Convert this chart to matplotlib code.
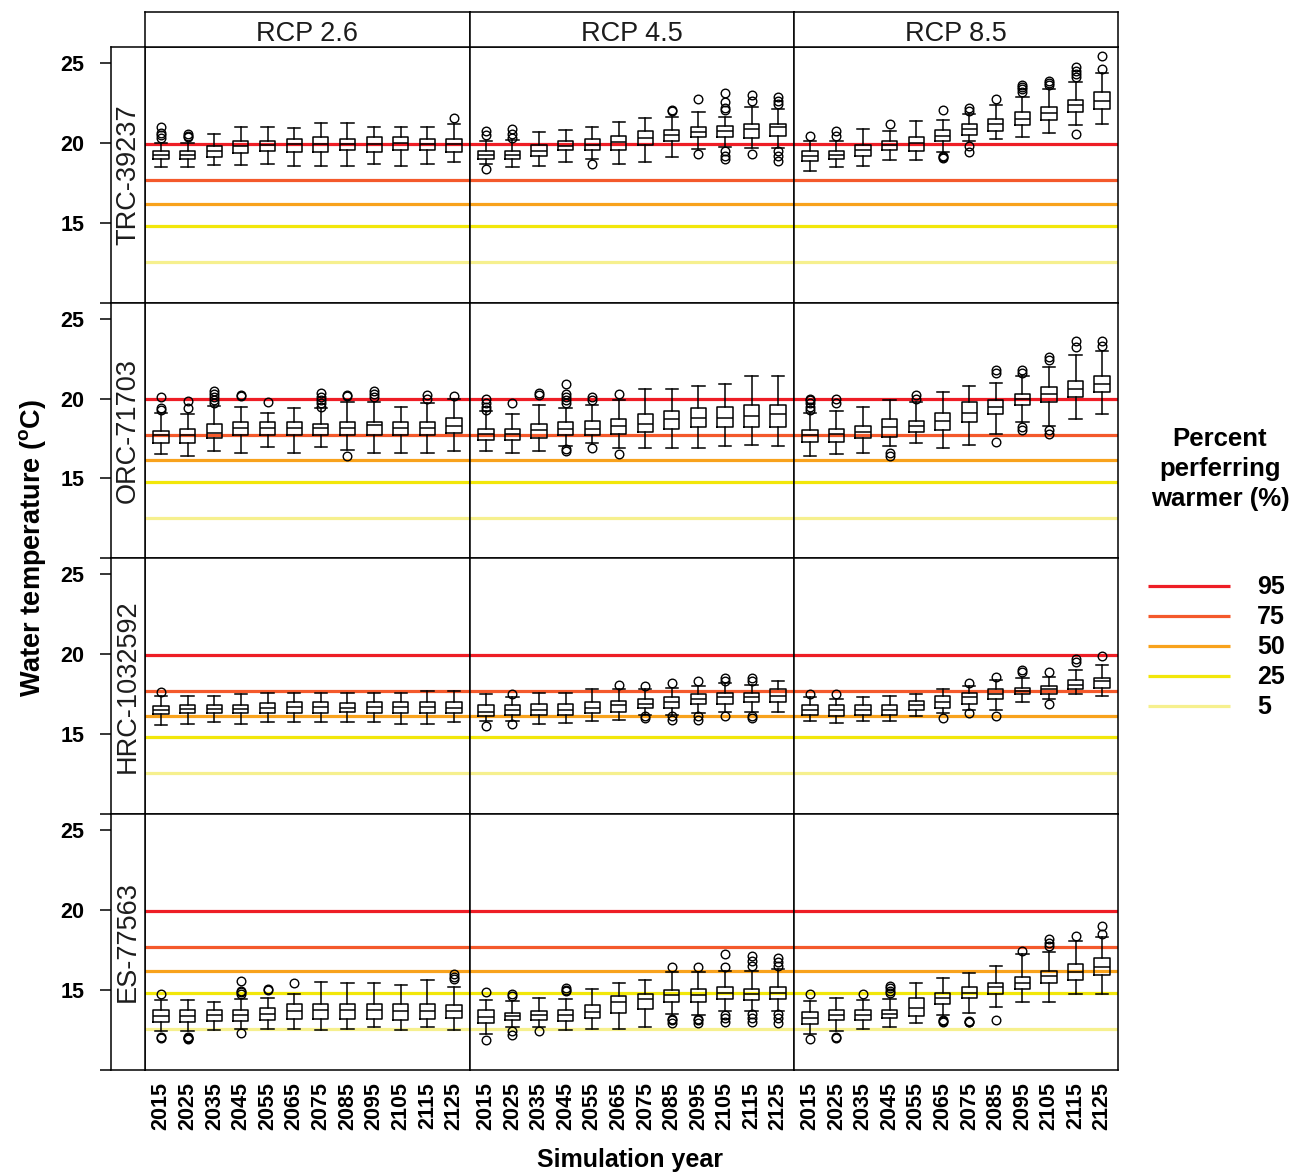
import matplotlib
matplotlib.use("Agg")
import matplotlib.pyplot as plt

plt.rcParams["font.family"] = ["Liberation Sans", "DejaVu Sans"]
plt.rcParams["mathtext.fontset"] = "custom"
plt.rcParams["mathtext.rm"] = "Liberation Sans"
plt.rcParams["mathtext.bf"] = "Liberation Sans:bold"

# ---------------------------------------------------------------- data
YEARS = [2015, 2025, 2035, 2045, 2055, 2065, 2075, 2085, 2095, 2105, 2115, 2125]
SITES = ["TRC-39237", "ORC-71703", "HRC-1032592", "ES-77563"]
SCENARIOS = ["RCP 2.6", "RCP 4.5", "RCP 8.5"]

# preference thresholds (water temperature, deg C) and percent preferring warmer
PCT_LABELS = ["95", "75", "50", "25", "5"]
THRESHOLDS = [19.95, 17.70, 16.15, 14.80, 12.55]
THRESH_COLORS = ["#EE1D25", "#F4592B", "#F8A21C", "#F2E70A", "#F6F08E"]

# --- TRC-39237
TRC_26_MED = [19.25, 19.25, 19.47, 19.79, 19.85, 19.90, 19.90, 19.90, 19.90, 19.98, 19.90, 19.90]
TRC_26_Q1 = [19.00, 19.00, 19.14, 19.35, 19.47, 19.45, 19.45, 19.55, 19.45, 19.55, 19.55, 19.45]
TRC_26_Q3 = [19.47, 19.47, 19.81, 20.13, 20.13, 20.25, 20.35, 20.25, 20.35, 20.35, 20.25, 20.25]
TRC_26_LO = [18.47, 18.47, 18.64, 18.62, 18.68, 18.58, 18.58, 18.58, 18.68, 18.58, 18.68, 18.78]
TRC_26_HI = [20.00, 20.00, 20.56, 21.02, 21.02, 20.92, 21.23, 21.23, 21.02, 21.02, 21.02, 21.15]
TRC_26_OUT = [[20.3, 20.5, 20.6, 21.0], [20.35, 20.45, 20.55], [], [], [], [], [], [], [], [], [], [21.57]]

TRC_45_MED = [19.25, 19.25, 19.52, 19.83, 19.89, 20.08, 20.31, 20.50, 20.71, 20.77, 20.88, 20.98]
TRC_45_Q1 = [19.00, 19.00, 19.20, 19.56, 19.56, 19.56, 19.89, 20.14, 20.35, 20.37, 20.31, 20.46]
TRC_45_Q3 = [19.47, 19.47, 19.89, 20.14, 20.25, 20.41, 20.73, 20.82, 21.02, 21.04, 21.19, 21.19]
TRC_45_LO = [18.68, 18.47, 18.57, 18.78, 19.00, 18.68, 18.78, 19.14, 19.62, 19.77, 19.69, 19.69]
TRC_45_HI = [20.14, 20.16, 20.71, 20.82, 21.02, 21.29, 21.57, 21.65, 21.92, 21.65, 22.24, 22.13]
TRC_45_OUT = [[18.37, 20.5, 20.77], [20.3, 20.55, 20.86], [], [], [18.68], [], [],
              [22.0, 22.07], [19.31, 22.76],
              [19.0, 19.2, 19.52, 22.03, 22.2, 22.55, 23.14],
              [19.31, 22.59, 22.97], [18.89, 19.2, 19.52, 22.45, 22.65, 22.86]]

TRC_85_MED = [19.16, 19.25, 19.55, 19.86, 19.98, 20.46, 20.88, 21.15, 21.50, 21.86, 22.34, 22.65]
TRC_85_Q1 = [18.85, 19.00, 19.20, 19.56, 19.52, 20.14, 20.52, 20.77, 21.09, 21.40, 21.92, 22.13]
TRC_85_Q3 = [19.52, 19.52, 19.89, 20.14, 20.35, 20.82, 21.15, 21.50, 21.92, 22.24, 22.70, 23.18]
TRC_85_LO = [18.26, 18.47, 18.57, 18.93, 18.93, 19.41, 20.14, 20.25, 20.35, 20.60, 21.09, 21.15]
TRC_85_HI = [20.14, 20.13, 20.88, 20.77, 21.36, 21.44, 21.78, 22.40, 22.90, 23.39, 23.80, 24.37]
TRC_85_OUT = [[20.41], [20.45, 20.72], [], [21.15], [], [19.06, 19.12, 19.2, 22.07],
              [19.41, 19.8, 22.0, 22.2], [22.76], [23.2, 23.35, 23.5, 23.65],
              [23.6, 23.75, 23.9], [20.56, 24.1, 24.3, 24.5, 24.75], [24.64, 25.42]]

# --- ORC-71703
ORC_26_MED = [17.72, 17.72, 17.83, 18.14, 18.14, 18.14, 18.14, 18.14, 18.35, 18.14, 18.14, 18.29]
ORC_26_Q1 = [17.24, 17.24, 17.51, 17.72, 17.72, 17.72, 17.72, 17.72, 17.72, 17.72, 17.72, 17.83]
ORC_26_Q3 = [17.99, 18.08, 18.41, 18.52, 18.52, 18.52, 18.41, 18.52, 18.52, 18.52, 18.52, 18.77]
ORC_26_LO = [16.53, 16.40, 16.74, 16.60, 16.99, 16.60, 16.99, 16.75, 16.60, 16.60, 16.60, 16.74]
ORC_26_HI = [19.08, 19.00, 19.54, 19.46, 19.08, 19.40, 19.40, 19.81, 19.78, 19.50, 19.71, 19.96]
ORC_26_OUT = [[19.3, 19.4, 20.09], [19.4, 19.86], [19.7, 19.9, 20.1, 20.3, 20.44], [20.13, 20.2],
              [19.81], [], [19.5, 19.7, 19.9, 20.1, 20.35], [16.4, 20.13, 20.25],
              [20.1, 20.3, 20.5], [], [19.96, 20.23], [20.17]]

ORC_45_MED = [17.80, 17.80, 18.00, 18.10, 18.10, 18.30, 18.40, 18.70, 18.80, 18.80, 18.90, 19.00]
ORC_45_Q1 = [17.40, 17.40, 17.50, 17.70, 17.70, 17.80, 17.90, 18.10, 18.20, 18.20, 18.20, 18.20]
ORC_45_Q3 = [18.10, 18.10, 18.40, 18.50, 18.60, 18.70, 19.00, 19.20, 19.40, 19.50, 19.60, 19.60]
ORC_45_LO = [16.70, 16.60, 16.70, 17.00, 17.20, 16.90, 16.90, 16.90, 16.90, 17.00, 17.10, 17.00]
ORC_45_HI = [19.20, 19.00, 19.60, 19.40, 19.60, 19.90, 20.60, 20.60, 20.80, 20.90, 21.40, 21.40]
ORC_45_OUT = [[19.3, 19.5, 19.7, 20.0], [19.7], [20.2, 20.35],
              [16.7, 16.85, 19.7, 19.9, 20.1, 20.3, 20.9], [16.9, 19.9, 20.1], [16.5, 20.3],
              [], [], [], [], [], []]

ORC_85_MED = [17.70, 17.80, 17.90, 18.20, 18.30, 18.60, 19.10, 19.50, 20.00, 20.30, 20.60, 20.90]
ORC_85_Q1 = [17.30, 17.30, 17.50, 17.60, 17.90, 18.00, 18.50, 19.00, 19.60, 19.80, 20.10, 20.40]
ORC_85_Q3 = [18.00, 18.10, 18.30, 18.70, 18.60, 19.10, 19.80, 19.90, 20.30, 20.70, 21.10, 21.40]
ORC_85_LO = [16.40, 16.50, 16.60, 17.00, 17.20, 16.90, 17.10, 17.80, 18.50, 18.30, 18.70, 19.00]
ORC_85_HI = [19.10, 19.20, 19.50, 19.90, 19.80, 20.40, 20.80, 21.00, 21.40, 22.00, 22.70, 23.00]
ORC_85_OUT = [[19.3, 19.5, 19.7, 19.9, 20.0], [19.7, 20.0], [], [16.4, 16.6], [20.0, 20.2], [],
              [], [17.3, 21.6, 21.8], [18.0, 18.2, 21.6, 21.8], [17.8, 18.0, 22.4, 22.6],
              [23.2, 23.6], [23.3, 23.6]]

# --- HRC-1032592
HRC_26_MED = [16.48, 16.54, 16.54, 16.54, 16.65, 16.67, 16.67, 16.65, 16.67, 16.67, 16.67, 16.65]
HRC_26_Q1 = [16.23, 16.29, 16.29, 16.29, 16.29, 16.33, 16.33, 16.35, 16.33, 16.33, 16.33, 16.33]
HRC_26_Q3 = [16.75, 16.81, 16.81, 16.81, 16.96, 17.00, 17.00, 16.92, 17.00, 17.00, 17.00, 17.00]
HRC_26_LO = [15.56, 15.66, 15.74, 15.66, 15.75, 15.75, 15.75, 15.75, 15.75, 15.66, 15.66, 15.75]
HRC_26_HI = [17.38, 17.38, 17.38, 17.48, 17.59, 17.59, 17.59, 17.59, 17.59, 17.59, 17.69, 17.69]
HRC_26_OUT = [[17.63], [], [], [], [], [], [], [], [], [], [], []]

HRC_45_MED = [16.40, 16.50, 16.50, 16.50, 16.60, 16.80, 16.90, 17.00, 17.20, 17.30, 17.30, 17.40]
HRC_45_Q1 = [16.10, 16.20, 16.20, 16.20, 16.30, 16.40, 16.60, 16.60, 16.90, 16.90, 17.00, 17.00]
HRC_45_Q3 = [16.80, 16.80, 16.90, 16.90, 17.00, 17.10, 17.20, 17.30, 17.50, 17.60, 17.60, 17.80]
HRC_45_LO = [15.80, 15.80, 15.60, 15.70, 15.80, 15.90, 16.20, 16.20, 16.30, 16.40, 16.40, 16.40]
HRC_45_HI = [17.50, 17.30, 17.60, 17.60, 17.80, 17.80, 17.80, 17.90, 18.00, 18.20, 18.10, 18.30]
HRC_45_OUT = [[15.5], [15.6, 17.5], [], [], [], [18.1], [16.0, 16.1, 18.0], [15.9, 16.1, 18.2],
              [15.9, 16.1, 18.3], [16.1, 18.3, 18.5], [16.0, 16.1, 18.3, 18.5], []]

HRC_85_MED = [16.50, 16.50, 16.50, 16.50, 16.80, 17.00, 17.30, 17.50, 17.70, 17.80, 18.10, 18.30]
HRC_85_Q1 = [16.20, 16.10, 16.20, 16.20, 16.50, 16.60, 16.90, 17.20, 17.50, 17.50, 17.80, 17.90]
HRC_85_Q3 = [16.80, 16.80, 16.80, 16.80, 17.10, 17.40, 17.60, 17.80, 17.90, 18.00, 18.40, 18.50]
HRC_85_LO = [15.80, 15.70, 15.80, 15.80, 16.10, 16.30, 16.50, 16.50, 17.00, 17.20, 17.50, 17.40]
HRC_85_HI = [17.30, 17.20, 17.30, 17.40, 17.50, 17.80, 18.00, 18.40, 18.50, 18.60, 19.00, 19.30]
HRC_85_OUT = [[17.5], [17.5], [], [], [], [16.0], [16.3, 18.2], [16.1, 18.6], [18.9, 19.0],
              [16.9, 18.9], [19.5, 19.7], [19.9]]

# --- ES-77563
ES_26_MED = [13.36, 13.36, 13.40, 13.40, 13.50, 13.67, 13.70, 13.70, 13.70, 13.67, 13.67, 13.67]
ES_26_Q1 = [13.00, 13.00, 13.07, 13.07, 13.09, 13.15, 13.15, 13.15, 13.15, 13.09, 13.15, 13.20]
ES_26_Q3 = [13.72, 13.72, 13.72, 13.72, 13.84, 14.09, 14.13, 14.13, 14.13, 14.13, 14.13, 14.05]
ES_26_LO = [12.42, 12.42, 12.46, 12.53, 12.53, 12.53, 12.46, 12.53, 12.67, 12.46, 12.67, 12.46]
ES_26_HI = [14.34, 14.34, 14.24, 14.40, 14.47, 14.72, 15.49, 15.39, 15.39, 15.28, 15.60, 15.18]
ES_26_OUT = [[12.0, 12.04, 14.76], [11.9, 11.95, 12.0, 12.05], [],
             [12.31, 14.76, 14.85, 14.95, 15.56], [14.97, 15.05], [15.45], [], [], [], [], [],
             [15.66, 15.8, 16.0]]

ES_45_MED = [13.30, 13.36, 13.40, 13.40, 13.63, 14.20, 14.41, 14.68, 14.68, 14.82, 14.72, 14.82]
ES_45_Q1 = [12.94, 13.09, 13.09, 13.07, 13.21, 13.57, 13.78, 14.26, 14.26, 14.41, 14.35, 14.41]
ES_45_Q3 = [13.72, 13.57, 13.68, 13.72, 14.04, 14.61, 14.72, 14.97, 15.02, 15.18, 15.02, 15.18]
ES_45_LO = [12.25, 12.67, 12.67, 12.46, 12.55, 12.55, 12.67, 13.46, 13.42, 13.67, 13.67, 13.67]
ES_45_HI = [14.34, 14.28, 14.47, 14.40, 15.02, 15.39, 15.60, 16.08, 16.08, 16.18, 16.18, 16.29]
ES_45_OUT = [[11.83, 14.88], [12.19, 12.43, 14.61, 14.72], [12.39], [14.92, 15.0, 15.13], [], [], [],
             [12.94, 13.09, 13.15, 16.39], [12.94, 13.09, 13.15, 16.39],
             [13.0, 13.2, 13.4, 16.39, 17.23], [12.95, 13.2, 13.45, 16.5, 16.8, 17.1],
             [12.94, 13.2, 13.5, 16.5, 16.75, 17.0]]

ES_85_MED = [13.25, 13.42, 13.40, 13.45, 13.88, 14.50, 14.82, 15.18, 15.45, 15.87, 16.08, 16.43]
ES_85_Q1 = [12.88, 13.09, 13.09, 13.26, 13.36, 14.13, 14.47, 14.76, 15.03, 15.39, 15.60, 15.93]
ES_85_Q3 = [13.61, 13.74, 13.72, 13.72, 14.47, 14.82, 15.18, 15.45, 15.81, 16.14, 16.60, 16.98]
ES_85_LO = [12.21, 12.43, 12.55, 12.67, 12.92, 13.42, 13.57, 13.92, 14.26, 14.26, 14.72, 14.72]
ES_85_HI = [14.32, 14.47, 14.34, 14.40, 15.39, 15.73, 16.03, 16.50, 17.23, 17.34, 18.07, 18.32]
ES_85_OUT = [[11.9, 14.72], [12.0, 12.05], [14.72], [14.8, 14.95, 15.1, 15.25], [],
             [12.98, 13.04, 13.1], [12.95, 13.0, 13.05], [13.12], [17.45],
             [17.76, 17.95, 18.17], [18.38], [18.49, 19.0]]

PANELS = {
    (0, 0): (TRC_26_LO, TRC_26_Q1, TRC_26_MED, TRC_26_Q3, TRC_26_HI, TRC_26_OUT),
    (0, 1): (TRC_45_LO, TRC_45_Q1, TRC_45_MED, TRC_45_Q3, TRC_45_HI, TRC_45_OUT),
    (0, 2): (TRC_85_LO, TRC_85_Q1, TRC_85_MED, TRC_85_Q3, TRC_85_HI, TRC_85_OUT),
    (1, 0): (ORC_26_LO, ORC_26_Q1, ORC_26_MED, ORC_26_Q3, ORC_26_HI, ORC_26_OUT),
    (1, 1): (ORC_45_LO, ORC_45_Q1, ORC_45_MED, ORC_45_Q3, ORC_45_HI, ORC_45_OUT),
    (1, 2): (ORC_85_LO, ORC_85_Q1, ORC_85_MED, ORC_85_Q3, ORC_85_HI, ORC_85_OUT),
    (2, 0): (HRC_26_LO, HRC_26_Q1, HRC_26_MED, HRC_26_Q3, HRC_26_HI, HRC_26_OUT),
    (2, 1): (HRC_45_LO, HRC_45_Q1, HRC_45_MED, HRC_45_Q3, HRC_45_HI, HRC_45_OUT),
    (2, 2): (HRC_85_LO, HRC_85_Q1, HRC_85_MED, HRC_85_Q3, HRC_85_HI, HRC_85_OUT),
    (3, 0): (ES_26_LO, ES_26_Q1, ES_26_MED, ES_26_Q3, ES_26_HI, ES_26_OUT),
    (3, 1): (ES_45_LO, ES_45_Q1, ES_45_MED, ES_45_Q3, ES_45_HI, ES_45_OUT),
    (3, 2): (ES_85_LO, ES_85_Q1, ES_85_MED, ES_85_Q3, ES_85_HI, ES_85_OUT),
}

# ---------------------------------------------------------------- layout
W, H = 1295, 1176
YLIM = (10.0, 26.0)
XLIM = (0.4, 12.6)
COL_EDGES = [145, 470, 794, 1118]
ROW_TOP, ROW_H = 47, 255.65
STRIP_TOP = 12
ROWSTRIP_LEFT = 111
FRAME_LW = 1.1


def frac(x0, y0, x1, y1):
    return [x0 / W, 1 - y1 / H, (x1 - x0) / W, (y1 - y0) / H]


def set_frame(ax):
    for sp in ax.spines.values():
        sp.set_linewidth(FRAME_LW)
        sp.set_color("black")


fig = plt.figure(figsize=(W / 100, H / 100), dpi=100)
positions = list(range(1, len(YEARS) + 1))

line_style = dict(color="black", linewidth=1.1)
for (r, c), (lo, q1, med, q3, hi, out) in PANELS.items():
    y0 = ROW_TOP + r * ROW_H
    ax = fig.add_axes(frac(COL_EDGES[c], y0, COL_EDGES[c + 1], y0 + ROW_H))
    for thr, col in zip(THRESHOLDS, THRESH_COLORS):
        ax.axhline(thr, color=col, linewidth=2.3, zorder=1)
    stats = [dict(whislo=lo[i], q1=q1[i], med=med[i], q3=q3[i], whishi=hi[i], fliers=out[i])
             for i in range(len(YEARS))]
    ax.bxp(stats, positions=positions, widths=0.57, capwidths=0.46, showfliers=True,
           boxprops=line_style, whiskerprops=line_style, capprops=line_style,
           medianprops=line_style,
           flierprops=dict(marker="o", markerfacecolor="none", markeredgecolor="black",
                           markersize=6.2, markeredgewidth=1.0),
           zorder=2)
    ax.set_xlim(*XLIM)
    ax.set_ylim(*YLIM)
    ax.set_yticks([])
    if r == len(SITES) - 1:
        ax.set_xticks(positions)
        ax.set_xticklabels([str(y) for y in YEARS], rotation=90, fontsize=15.5,
                           fontweight="bold", va="top", ha="center")
        ax.tick_params(axis="x", length=0, pad=9)
    else:
        ax.set_xticks([])
    set_frame(ax)

# column strips
for c, name in enumerate(SCENARIOS):
    sax = fig.add_axes(frac(COL_EDGES[c], STRIP_TOP, COL_EDGES[c + 1], ROW_TOP))
    sax.set_xticks([])
    sax.set_yticks([])
    set_frame(sax)
    sax.text(0.5, 0.36, name, transform=sax.transAxes, ha="center", va="center",
             fontsize=19.5, color="#1c1c1c")

# row strips with the shared temperature axis
for r, site in enumerate(SITES):
    y0 = ROW_TOP + r * ROW_H
    rax = fig.add_axes(frac(ROWSTRIP_LEFT, y0, COL_EDGES[0], y0 + ROW_H))
    rax.set_ylim(*YLIM)
    rax.set_xticks([])
    rax.set_yticks([10, 15, 20, 25])
    rax.set_yticklabels(["", "15", "20", "25"], fontsize=15.5, fontweight="bold")
    rax.tick_params(axis="y", length=8, width=FRAME_LW, pad=11)
    set_frame(rax)
    rax.text(0.5, 0.5, site, transform=rax.transAxes, rotation=90, ha="center",
             va="center", fontsize=19.5, color="#1c1c1c")

fig.text(33 / W, 1 - 548 / H, r"Water temperature ($^{\mathbf{o}}$C)", rotation=90,
         ha="center", va="center", fontsize=19.5, fontweight="bold")
fig.text(630 / W, 1 - 1160 / H, "Simulation year", ha="center", va="center",
         fontsize=18, fontweight="bold")

# legend
lax = fig.add_axes(frac(1125, 400, 1295, 730))
lax.set_xlim(1125, 1295)
lax.set_ylim(730, 400)
lax.axis("off")
lax.text(1220, 469, "Percent\nperferring\nwarmer (%)", ha="center", va="center",
         fontsize=18.5, fontweight="bold", linespacing=1.33)
for i, (lab, col) in enumerate(zip(PCT_LABELS, THRESH_COLORS)):
    yy = 586 + i * 30
    lax.plot([1148, 1230], [yy, yy], color=col, linewidth=2.3, solid_capstyle="butt")
    lax.text(1257, yy + 1, lab, ha="left", va="center", fontsize=18, fontweight="bold")

fig.savefig("out.png", dpi=100)
